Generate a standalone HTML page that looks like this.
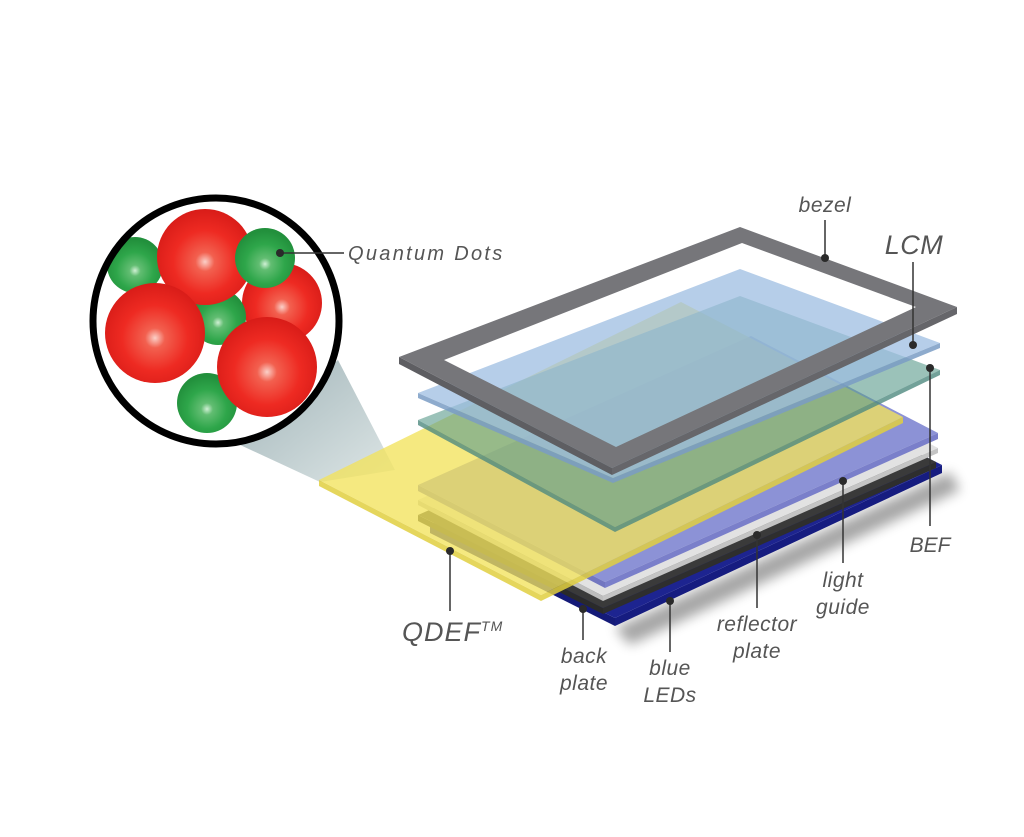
<!DOCTYPE html>
<html><head><meta charset="utf-8"><style>
html,body{margin:0;padding:0;background:#fff;}
svg{display:block;}
text{font-family:"Liberation Sans",sans-serif;font-style:italic;fill:#555;}
</style></head><body>
<svg width="1024" height="837" viewBox="0 0 1024 837" xmlns="http://www.w3.org/2000/svg">
<defs>
<radialGradient id="rg" cx="0.5" cy="0.55" r="0.55"><stop offset="0" stop-color="#fbd0c8"/><stop offset="0.18" stop-color="#f2604f"/><stop offset="0.6" stop-color="#ee2a22"/><stop offset="1" stop-color="#d81c18"/></radialGradient>
<radialGradient id="gg" cx="0.5" cy="0.6" r="0.55"><stop offset="0" stop-color="#d0f0d4"/><stop offset="0.18" stop-color="#62bd72"/><stop offset="0.6" stop-color="#2ea64a"/><stop offset="1" stop-color="#22903c"/></radialGradient>
<linearGradient id="cone" x1="0" y1="0" x2="1" y2="1"><stop offset="0" stop-color="#8fa6ab"/><stop offset="1" stop-color="#d8e2e2"/></linearGradient>
<filter id="blur"><feGaussianBlur stdDeviation="6"/></filter>
</defs>

<polygon points="338,360 395,470 320,482 238,444" fill="url(#cone)" opacity="0.85"/>

<polygon points="615,628 950,472 960,490 630,645" fill="#000" opacity="0.35" filter="url(#blur)"/>

<polygon points="430,525 615,618 615,626 430,533" fill="#141a78"/>
<polygon points="615,618 942,465 942,473 615,626" fill="#161c80"/>
<polygon points="430,525 757,372 942,465 615,618" fill="#1d2490"/>
<polygon points="418,515 603,608 603,614 418,521" fill="#2a2a2a"/>
<polygon points="603,608 936,462 936,468 603,614" fill="#2e2e2e"/>
<polygon points="418,515 751,369 936,462 603,608" fill="#3a3a3a"/>
<polygon points="418,500 603,596 603,601 418,505" fill="#bdbdbd"/>
<polygon points="603,596 938,448 938,453 603,601" fill="#c4c4c4"/>
<polygon points="418,500 753,352 938,448 603,596" fill="#e2e2e2"/>
<polygon points="418,485 605,582 605,588 418,491" fill="#7276c0"/>
<polygon points="605,582 938,433 938,439 605,588" fill="#7a7fca"/>
<polygon points="418,485 751,336 938,433 605,582" fill="#8c92d6"/>

<polygon points="319,480 541,595 541,601 319,486" fill="#e0cf40" opacity="0.85"/>
<polygon points="541,595 903,417 903,423 541,601" fill="#e0cf40" opacity="0.85"/>
<polygon points="319,480 681,302 903,417 541,595" fill="#f2e35c" opacity="0.78"/>

<polygon points="418,420 615,527 615,532 418,425" fill="#4f8a80" opacity="0.8"/>
<polygon points="615,527 940,370 940,375 615,532" fill="#4f8a80" opacity="0.8"/>
<polygon points="418,420 740,296 940,370 615,527" fill="#5d9c8e" opacity="0.62"/>

<polygon points="418,393 613,478 613,483 418,398" fill="#7a9cc4" opacity="0.85"/>
<polygon points="613,478 940,343 940,348 613,483" fill="#7a9cc4" opacity="0.85"/>
<polygon points="418,393 740,269 940,343 613,478" fill="#9dbde2" opacity="0.75"/>

<polygon points="399,357 612,468 612,475 399,364" fill="#5e5e62"/>
<polygon points="612,468 957,307 957,314 612,475" fill="#66666a"/>
<path d="M399,357 L740,227 L957,307 L612,468 Z M444,360 L616,447 L916,307 L742,243 Z" fill="#76767a" fill-rule="evenodd"/>

<circle cx="216" cy="321" r="123" fill="#fff"/>
<circle cx="282" cy="303" r="40" fill="url(#rg)"/>
<circle cx="218" cy="317" r="28" fill="url(#gg)"/>
<circle cx="135" cy="265" r="28" fill="url(#gg)"/>
<circle cx="205" cy="257" r="48" fill="url(#rg)"/>
<circle cx="265" cy="258" r="30" fill="url(#gg)"/>
<circle cx="155" cy="333" r="50" fill="url(#rg)"/>
<circle cx="207" cy="403" r="30" fill="url(#gg)"/>
<circle cx="267" cy="367" r="50" fill="url(#rg)"/>
<circle cx="216" cy="321" r="123" fill="none" stroke="#000" stroke-width="7"/>

<g stroke="#333" stroke-width="1.5" fill="none">
<line x1="280" y1="253" x2="344" y2="253"/>
<line x1="825" y1="220" x2="825" y2="258"/>
<line x1="913" y1="262" x2="913" y2="345"/>
<line x1="930" y1="368" x2="930" y2="526"/>
<line x1="843" y1="481" x2="843" y2="563"/>
<line x1="757" y1="535" x2="757" y2="608"/>
<line x1="670" y1="601" x2="670" y2="652"/>
<line x1="583" y1="609" x2="583" y2="640"/>
<line x1="450" y1="551" x2="450" y2="611"/>
</g>
<g fill="#2a2a2a">
<circle cx="280" cy="253" r="4"/><circle cx="825" cy="258" r="4"/><circle cx="913" cy="345" r="4"/>
<circle cx="930" cy="368" r="4"/><circle cx="843" cy="481" r="4"/><circle cx="757" cy="535" r="4"/>
<circle cx="670" cy="601" r="4"/><circle cx="583" cy="609" r="4"/><circle cx="450" cy="551" r="4"/>
</g>

<text x="348" y="260" font-size="20" letter-spacing="2.3">Quantum Dots</text>
<text x="825" y="212" font-size="21" text-anchor="middle" letter-spacing="0.5">bezel</text>
<text x="914" y="254" font-size="27" text-anchor="middle" letter-spacing="0.5">LCM</text>
<text x="930" y="552" font-size="21" text-anchor="middle">BEF</text>
<text x="843" y="587" font-size="21" text-anchor="middle" letter-spacing="0.5">light</text>
<text x="843" y="614" font-size="21" text-anchor="middle" letter-spacing="0.5">guide</text>
<text x="757" y="631" font-size="21" text-anchor="middle" letter-spacing="0.5">reflector</text>
<text x="757" y="658" font-size="21" text-anchor="middle" letter-spacing="0.5">plate</text>
<text x="670" y="675" font-size="21" text-anchor="middle" letter-spacing="0.5">blue</text>
<text x="670" y="702" font-size="21" text-anchor="middle" letter-spacing="0.5">LEDs</text>
<text x="584" y="663" font-size="21" text-anchor="middle" letter-spacing="0.5">back</text>
<text x="584" y="690" font-size="21" text-anchor="middle" letter-spacing="0.5">plate</text>
<text x="402" y="641" font-size="27" letter-spacing="1">QDEF<tspan font-size="14" dy="-10">TM</tspan></text>
</svg>
</body></html>
